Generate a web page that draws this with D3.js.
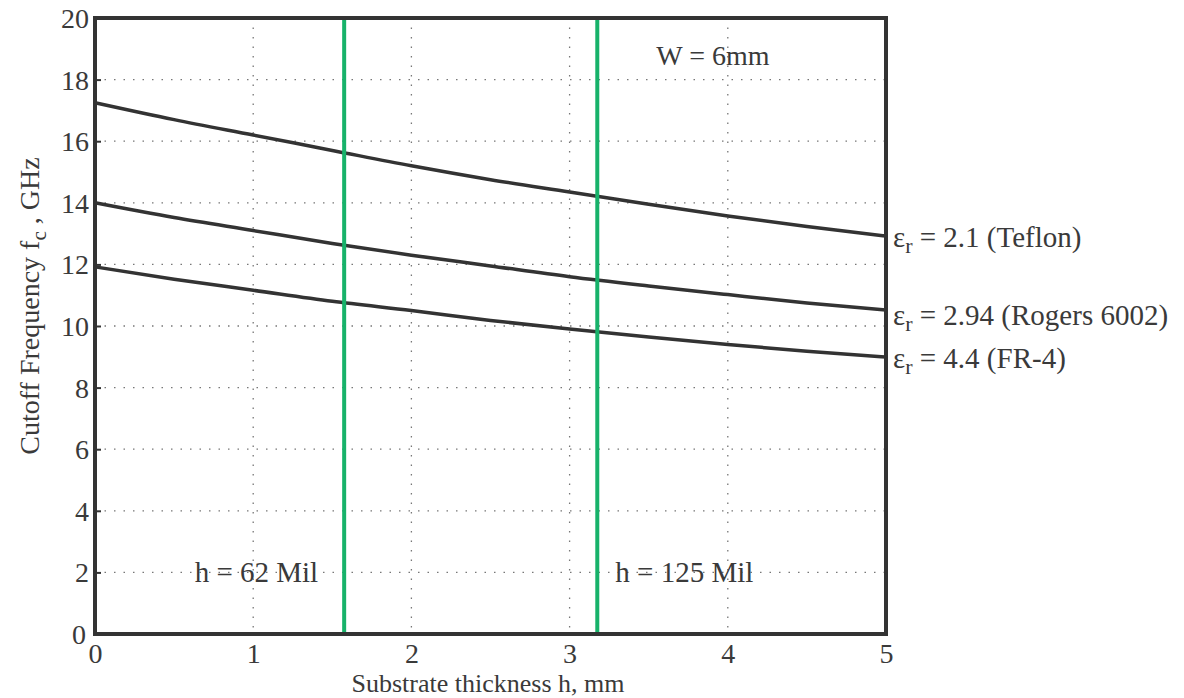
<!DOCTYPE html>
<html>
<head>
<meta charset="utf-8" />
<title>Cutoff Frequency</title>
<script src="https://d3js.org/d3.v7.min.js"></script>
<style>
body { margin: 0; background: #fff; }
text { font-family: "Liberation Serif", "DejaVu Serif", serif; fill: #3a3a3a; }
</style>
</head>
<body>
<script>

var thickness = [0, 0.5, 1, 1.5, 2, 2.5, 3, 3.5, 4, 4.5, 5];
var teflon = [17.25, 16.7, 16.2, 15.7, 15.2, 14.75, 14.35, 13.95, 13.57, 13.23, 12.92];
var rogers = [14.0, 13.52, 13.1, 12.68, 12.3, 11.95, 11.6, 11.3, 11.02, 10.75, 10.52];
var fr4 = [11.92, 11.52, 11.16, 10.8, 10.5, 10.18, 9.9, 9.64, 9.4, 9.18, 8.99];
var seriesNames = ["2.1 (Teflon)", "2.94 (Rogers 6002)", "4.4 (FR-4)"];
var markers = [1.575, 3.175];
var markerNames = ["h = 62 Mil", "h = 125 Mil"];
var xTicks = [0, 1, 2, 3, 4, 5];
var yTicks = [0, 2, 4, 6, 8, 10, 12, 14, 16, 18, 20];

var W = 1184, H = 698;
var pLeft = 95, pRight = 886, pTop = 18, pBottom = 634;

var svg = d3.select("body").append("svg")
	.attr("width", W)
	.attr("height", H);

var x = d3.scaleLinear().domain([0, 5]).range([pLeft, pRight]);
var y = d3.scaleLinear().domain([0, 20]).range([pBottom, pTop]);

// dotted grid
svg.append("g").selectAll("line")
	.data(xTicks.slice(1, -1))
	.enter().append("line")
	.attr("x1", function(d){ return x(d); })
	.attr("x2", function(d){ return x(d); })
	.attr("y1", pTop).attr("y2", pBottom)
	.attr("stroke", "#777").attr("stroke-width", 1.3)
	.attr("stroke-dasharray", "1.5,8");

svg.append("g").selectAll("line")
	.data(yTicks.slice(1, -1))
	.enter().append("line")
	.attr("y1", function(d){ return y(d); })
	.attr("y2", function(d){ return y(d); })
	.attr("x1", pLeft).attr("x2", pRight)
	.attr("stroke", "#777").attr("stroke-width", 1.3)
	.attr("stroke-dasharray", "1.5,8");

// axes ticks and labels
var xAxis = d3.axisBottom(x).tickValues(xTicks).tickSize(0)
	.tickFormat(d3.format("d"));
var gx = svg.append("g").attr("transform", "translate(0," + pBottom + ")").call(xAxis);
gx.select(".domain").remove();
gx.selectAll("text")
	.attr("y", 29).attr("dy", 0)
	.attr("font-size", 28).attr("font-family", "Liberation Serif").attr("fill", "#3a3a3a");

var yAxis = d3.axisLeft(y).tickValues(yTicks).tickSize(-6).tickPadding(6)
	.tickFormat(d3.format("d"));
var gy = svg.append("g").attr("transform", "translate(" + pLeft + ",0)").call(yAxis);
gy.select(".domain").remove();
gy.selectAll("line").attr("stroke", "#333").attr("stroke-width", 2);
gy.selectAll("text")
	.attr("x", -6).attr("dy", "0.34em")
	.attr("font-size", 28).attr("font-family", "Liberation Serif").attr("fill", "#3a3a3a");
gy.selectAll(".tick").filter(function(d){ return d === 0; }).select("text").attr("x", -9);

// curves
var line = d3.line()
	.x(function(d, i){ return x(thickness[i]); })
	.y(function(d){ return y(d); })
	.curve(d3.curveMonotoneX);

var series = [teflon, rogers, fr4];
svg.append("g").selectAll("path")
	.data(series)
	.enter().append("path")
	.attr("d", line)
	.attr("fill", "none")
	.attr("stroke", "#333")
	.attr("stroke-width", 3.5);

// green markers
svg.append("g").selectAll("line")
	.data(markers)
	.enter().append("line")
	.attr("x1", function(d){ return x(d); })
	.attr("x2", function(d){ return x(d); })
	.attr("y1", pTop).attr("y2", pBottom)
	.attr("stroke", "#17b26a")
	.attr("stroke-width", 4);

// frame
svg.append("rect")
	.attr("x", pLeft).attr("y", pTop)
	.attr("width", pRight - pLeft).attr("height", pBottom - pTop)
	.attr("fill", "none")
	.attr("stroke", "#333")
	.attr("stroke-width", 4);

// series labels
var labels = svg.append("g").selectAll("text")
	.data(series)
	.enter().append("text")
	.attr("x", pRight + 7)
	.attr("y", function(d){ return y(d[d.length - 1]); })
	.attr("dy", function(d, i){ return [11, 15, 11][i]; })
	.attr("font-size", 29);
labels.append("tspan").text("ε");
labels.append("tspan").attr("dy", 6).attr("font-size", 22).text("r");
labels.append("tspan").attr("dy", -6).text(function(d, i){ return " = " + seriesNames[i]; });

// marker labels
svg.append("g").selectAll("text")
	.data(markers)
	.enter().append("text")
	.attr("x", function(d, i){ return i === 0 ? x(d) - 26 : x(d) + 18; })
	.attr("y", 582)
	.attr("text-anchor", function(d, i){ return i === 0 ? "end" : "start"; })
	.attr("font-size", 29)
	.text(function(d, i){ return markerNames[i]; });

svg.append("text")
	.attr("x", 713).attr("y", 65)
	.attr("text-anchor", "middle")
	.attr("font-size", 28)
	.text("W = 6mm");

// axis titles
svg.append("text")
	.attr("x", 488).attr("y", 692)
	.attr("text-anchor", "middle")
	.attr("font-size", 26)
	.text("Substrate thickness h, mm");

var yt = svg.append("text")
	.attr("transform", "translate(39," + 306 + ") rotate(-90)")
	.attr("text-anchor", "middle")
	.attr("font-size", 28);
yt.append("tspan").text("Cutoff Frequency f");
yt.append("tspan").attr("dy", 7).attr("font-size", 21).text("c");
yt.append("tspan").attr("dy", -7).text(" , GHz");

</script>
</body>
</html>
